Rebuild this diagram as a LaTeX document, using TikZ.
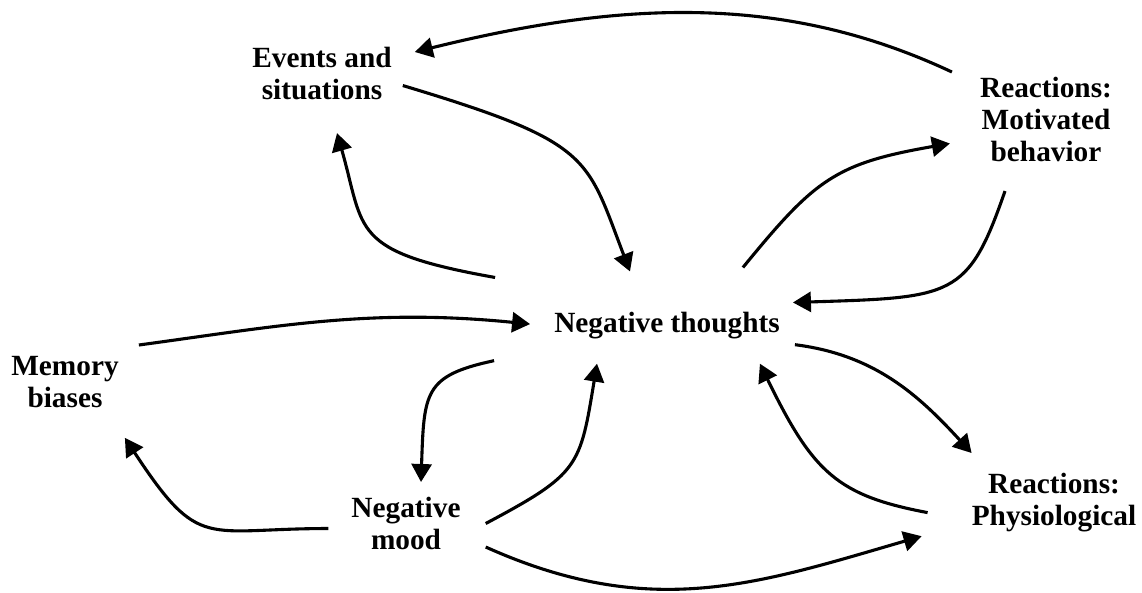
\documentclass[tikz,border=0pt]{standalone}
\usepackage{fontspec}
\setmainfont{Liberation Serif}
\usetikzlibrary{arrows.meta}

\begin{document}
\begin{tikzpicture}[
    x=1pt, y=-1pt,
    lbl/.style={
        font=\bfseries\fontsize{29.3}{32}\selectfont,
        align=center, inner sep=0pt, text=black
    },
    arr/.style={-{Triangle[length=18pt, width=20pt]}, line width=3.1pt, draw=black}
]

% Marco de la figura (1 unidad = 1 px)
\useasboundingbox (0,0) rectangle (1142,592);

% ------------------------------------------------------------------------------
% 1. CONCEPTOS
% ------------------------------------------------------------------------------
\node[lbl, anchor=base]  (thoughts) at (667,332)  {Negative thoughts};
\node[lbl, anchor=north] (events)   at (322,47)   {Events and\\situations};
\node[lbl, anchor=north] (motiv)    at (1046,77)  {Reactions:\\Motivated\\behavior};
\node[lbl, anchor=north] (memory)   at (65,356)   {Memory\\biases};
\node[lbl, anchor=north] (mood)     at (406,497)  {Negative\\mood};
\node[lbl, anchor=north] (physio)   at (1054,473) {Reactions:\\Physiological};

% ------------------------------------------------------------------------------
% 2. CICLO SUPERIOR
% ------------------------------------------------------------------------------
\draw[arr] ([shift={(-28,-5)}]motiv.north west) .. controls +(-166,-78) and +(210,-52) .. ([shift={(23,5)}]events.north east);
\draw[arr] ([shift={(11,12)}]events.east) .. controls +(190,57) and +(-44,-115) .. ([shift={(-37,-40)}]thoughts.north);
\draw[arr] ([shift={(-59,-34)}]thoughts.north west) .. controls +(-146,-26) and +(28,98) .. ([shift={(15,33)}]events.south);
\draw[arr] ([shift={(-37,-44)}]thoughts.north east) .. controls +(72,-88) and +(-115,20) .. ([shift={(-30,24)}]motiv.west);
\draw[arr] ([shift={(-41,29)}]motiv.south) .. controls +(-37,107) and +(160,-5) .. ([shift={(13,-9)}]thoughts.north east);

% ------------------------------------------------------------------------------
% 3. CICLO INFERIOR
% ------------------------------------------------------------------------------
\draw[arr] ([shift={(20,-11)}]memory.north east) .. controls +(140,-19) and +(-160,-16) .. ([shift={(-24,-1)}]thoughts.west);
\draw[arr] ([shift={(-60,22)}]thoughts.south west) .. controls +(-70,15) and +(3,-90) .. ([shift={(15,-15)}]mood.north);
\draw[arr] ([shift={(25,0)}]mood.east) .. controls +(94,-50) and +(-17,103) .. ([shift={(-70,25)}]thoughts.south);
\draw[arr] ([shift={(-23,5)}]mood.west) .. controls +(-124,0) and +(75,114) .. ([shift={(6,30)}]memory.south east);
\draw[arr] ([shift={(25,-3)}]mood.south east) .. controls +(165,74) and +(-165,48) .. ([shift={(-50,4)}]physio.south west);
\draw[arr] ([shift={(15,6)}]thoughts.south east) .. controls +(79,10) and +(-54,-59) .. ([shift={(0,-20)}]physio.north west);
\draw[arr] ([shift={(-44,10)}]physio.west) .. controls +(-90,-17) and +(53,109) .. ([shift={(-20,25)}]thoughts.south east);

\end{tikzpicture}
\end{document}
